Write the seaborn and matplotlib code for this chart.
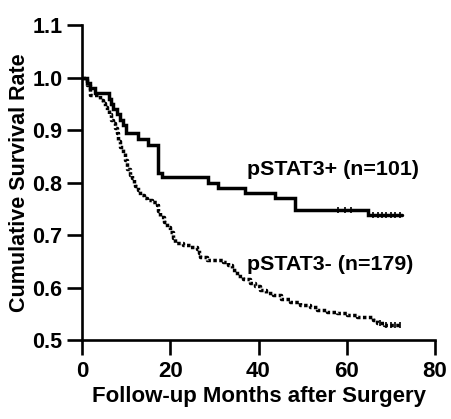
import matplotlib
matplotlib.use("Agg")
import matplotlib.pyplot as plt
import seaborn as sns
import pandas as pd

# ---- data ----
pos_months = [0, 1.1, 1.8, 2.9, 6.1, 6.6, 7.0, 7.9, 8.6, 9.3, 10.0, 12.7, 15.0,
              17.2, 18.1, 28.6, 30.8, 36.9, 43.7, 48.3, 64.8, 72.5]
pos_surv = [1.0, 0.99, 0.98, 0.97, 0.96, 0.95, 0.94, 0.93, 0.92, 0.91, 0.894, 0.882,
            0.871, 0.818, 0.810, 0.80, 0.79, 0.78, 0.77, 0.748, 0.738, 0.738]

neg_months = [0, 1.2, 1.8, 4.0, 4.8, 5.3, 5.7, 6.2, 6.6, 7.0, 7.5, 7.9, 8.2, 8.6,
              9.2, 9.7, 10.2, 10.8, 11.3, 11.7, 12.0, 12.6, 13.1, 14.0, 14.7, 15.8,
              17.0, 17.3, 17.7, 18.5, 19.3, 20.0, 20.6, 21.1, 22.9, 24.5, 26.1, 26.5,
              26.7, 28.3, 32.0, 33.1, 34.0, 35.1, 36.5, 38.1, 39.2, 40.3, 41.8, 43.3,
              45.0, 47.1, 49.5, 51.7, 53.3, 55.5, 57.8, 60.0, 62.3, 66.0, 66.9, 68.5,
              72.1]
neg_surv = [1.0, 0.985, 0.967, 0.957, 0.951, 0.944, 0.938, 0.93, 0.92, 0.913, 0.904,
            0.894, 0.88, 0.868, 0.856, 0.843, 0.826, 0.815, 0.808, 0.80, 0.793, 0.785,
            0.776, 0.770, 0.767, 0.762, 0.757, 0.745, 0.734, 0.725, 0.715, 0.705,
            0.694, 0.685, 0.681, 0.677, 0.673, 0.665, 0.658, 0.652, 0.648, 0.643,
            0.633, 0.622, 0.616, 0.609, 0.602, 0.595, 0.590, 0.586, 0.579, 0.572,
            0.567, 0.563, 0.557, 0.554, 0.551, 0.547, 0.544, 0.538, 0.532, 0.529,
            0.529]

pos_censor_months = [58, 59.5, 61, 66, 67, 68, 69, 70, 71, 72]
pos_censor_surv = [0.748, 0.748, 0.748, 0.738, 0.738, 0.738, 0.738, 0.738, 0.738, 0.738]
neg_censor_months = [67.5, 69, 70, 71, 72]
neg_censor_surv = [0.532, 0.529, 0.529, 0.529, 0.529]

pos_label = "pSTAT3+ (n=101)"
neg_label = "pSTAT3- (n=179)"
x_ticks = [0, 20, 40, 60, 80]
y_ticks = [0.5, 0.6, 0.7, 0.8, 0.9, 1.0, 1.1]
x_title = "Follow-up Months after Surgery"
y_title = "Cumulative Survival Rate"

# ---- style ----
sns.set_style("ticks")
plt.rcParams["font.family"] = ["Liberation Sans", "DejaVu Sans"]
plt.rcParams["font.weight"] = "bold"
for key in ["text.color", "axes.labelcolor", "xtick.color", "ytick.color",
            "axes.edgecolor"]:
    plt.rcParams[key] = "black"

fig = plt.figure(figsize=(4.52, 4.19), dpi=100)
ax = fig.add_axes([82 / 452, 1 - 340 / 419, (435 - 82) / 452, (340 - 25) / 419])

df_pos = pd.DataFrame({"month": pos_months, "surv": pos_surv})
df_neg = pd.DataFrame({"month": neg_months, "surv": neg_surv})

sns.lineplot(data=df_neg, x="month", y="surv", ax=ax, estimator=None, sort=False,
             drawstyle="steps-post", color="black", lw=2.5,
             linestyle=(0, (1.0, 0.7)), dash_capstyle="butt")
sns.lineplot(data=df_pos, x="month", y="surv", ax=ax, estimator=None, sort=False,
             drawstyle="steps-post", color="black", lw=2.5,
             solid_joinstyle="miter")

sns.scatterplot(x=pos_censor_months, y=pos_censor_surv, ax=ax, marker="|",
                s=22, color="black", linewidth=1.2)
sns.scatterplot(x=neg_censor_months, y=neg_censor_surv, ax=ax, marker="|",
                s=22, color="black", linewidth=1.2)

ax.text(37.4, 0.814, pos_label, fontsize=15.4, fontweight="bold", va="baseline",
        color="black")
ax.text(37.4, 0.633, neg_label, fontsize=15.4, fontweight="bold", va="baseline",
        color="black")

ax.set_xlim(0, 80)
ax.set_ylim(0.5, 1.1)
ax.set_xticks(x_ticks)
ax.set_yticks(y_ticks)
ax.set_xticklabels([str(v) for v in x_ticks], fontsize=16, fontweight="bold")
ax.set_yticklabels([f"{v:.1f}" for v in y_ticks], fontsize=15.5, fontweight="bold")
ax.set_xlabel(x_title, fontsize=16, fontweight="bold", labelpad=3, color="black")
ax.set_ylabel(y_title, fontsize=15.5, fontweight="bold", labelpad=2, color="black")

for side in ["top", "right"]:
    ax.spines[side].set_visible(False)
for side in ["left", "bottom"]:
    ax.spines[side].set_linewidth(1.9)
    ax.spines[side].set_color("black")
ax.tick_params(axis="both", length=11, width=1.9, color="black",
               labelcolor="black")
ax.tick_params(axis="y", pad=3)
ax.tick_params(axis="x", pad=4)
ax.set_facecolor("white")
fig.patch.set_facecolor("white")

fig.savefig("out.png", dpi=100, facecolor="white")
